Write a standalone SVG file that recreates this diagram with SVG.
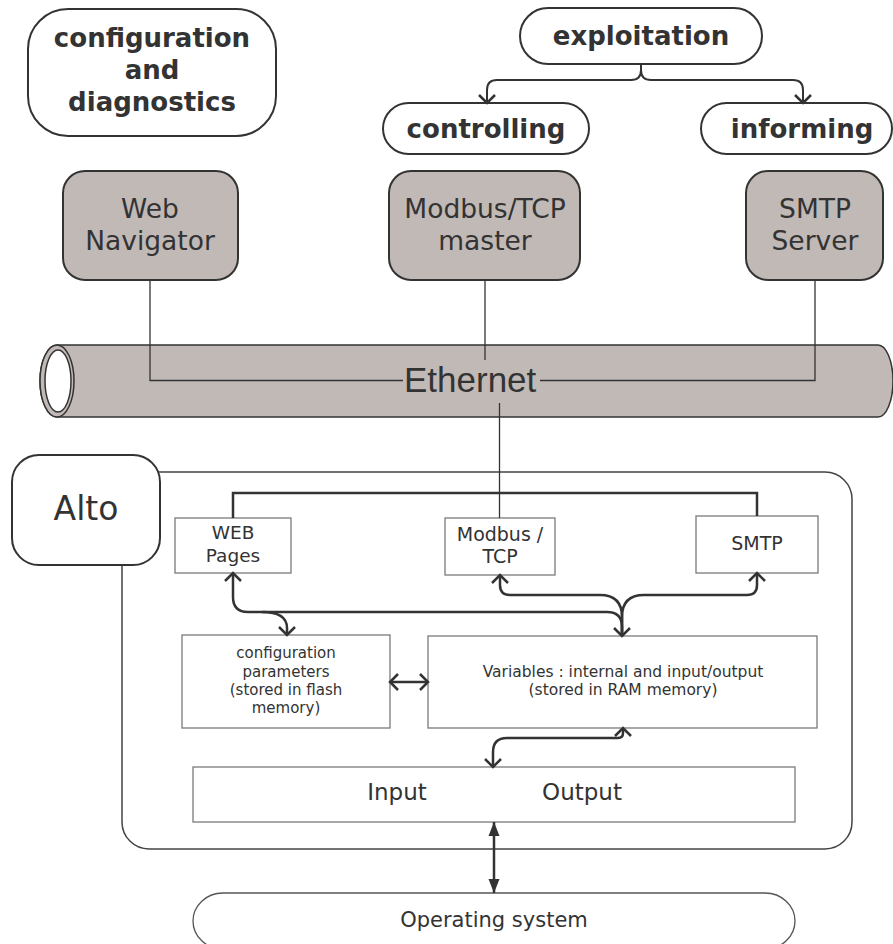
<svg xmlns="http://www.w3.org/2000/svg" width="893" height="944" viewBox="0 0 893 944">
<style>
text{font-family:"DejaVu Sans",Verdana,sans-serif;fill:#333}
.b{font-weight:bold;font-size:26px}
.pill{fill:#fff;stroke:#333;stroke-width:2}
.dev{fill:#c1b9b6;stroke:#333;stroke-width:2}
.box{fill:#fff;stroke:#7a7a7a;stroke-width:1.3}
.ln{fill:none;stroke:#333;stroke-width:1.3}
.cn{fill:none;stroke:#333;stroke-width:2.5}
.cn2{fill:none;stroke:#333;stroke-width:2}
</style>
<defs>
<marker id="v" markerUnits="userSpaceOnUse" markerWidth="20" markerHeight="20" refX="10" refY="10" orient="auto-start-reverse" viewBox="0 0 20 20">
<path d="M2,2 L10,10 L2,18" fill="none" stroke="#333" stroke-width="2.5"/>
</marker>
<marker id="t" markerUnits="userSpaceOnUse" markerWidth="20" markerHeight="20" refX="14" refY="10" orient="auto-start-reverse" viewBox="0 0 20 20">
<path d="M0,4.5 L14,10 L0,15.5 Z" fill="#333"/>
</marker>
</defs>

<g id="config-diag">
<rect class="pill" x="28" y="9" width="248" height="127" rx="40"/>
<text class="b" x="152" y="47" text-anchor="middle">configuration</text>
<text class="b" x="152" y="79" text-anchor="middle">and</text>
<text class="b" x="152" y="111" text-anchor="middle">diagnostics</text>
</g>
<g id="exploitation">
<rect class="pill" x="520" y="8" width="242" height="56" rx="28"/>
<text class="b" x="641" y="45" text-anchor="middle">exploitation</text>
</g>
<g id="controlling">
<rect class="pill" x="383" y="103" width="206" height="51" rx="25.5"/>
<text class="b" x="486" y="138" text-anchor="middle">controlling</text>
</g>
<g id="informing">
<rect class="pill" x="701" y="103" width="191" height="51" rx="25.5"/>
<text class="b" x="802" y="138" text-anchor="middle">informing</text>
</g>

<g id="web-navigator">
<rect class="dev" x="63" y="171" width="175" height="109" rx="22"/>
<text x="150" y="218" font-size="26.5" text-anchor="middle">Web</text>
<text x="150" y="250" font-size="26.5" text-anchor="middle">Navigator</text>
</g>
<g id="modbus-master">
<rect class="dev" x="389" y="171" width="191" height="109" rx="22"/>
<text x="485" y="218" font-size="26.5" text-anchor="middle">Modbus/TCP</text>
<text x="485" y="250" font-size="26.5" text-anchor="middle">master</text>
</g>
<g id="smtp-server">
<rect class="dev" x="746" y="171" width="137" height="109" rx="22"/>
<text x="815" y="218" font-size="26.5" text-anchor="middle">SMTP</text>
<text x="815" y="250" font-size="26.5" text-anchor="middle">Server</text>
</g>

<g id="ethernet">
<path d="M57,345 L878,345 A15,36 0 0 1 878,417 L57,417 A17,36 0 0 1 57,345 Z" fill="#c1b9b6" stroke="#333" stroke-width="1.5"/>
<ellipse cx="57" cy="381" rx="17" ry="36" fill="#c1b9b6" stroke="#333" stroke-width="1.5"/>
<ellipse cx="58" cy="381" rx="13" ry="31" fill="#fff" stroke="#333" stroke-width="1.5"/>
<text x="404" y="392" font-family="'Liberation Sans',Arial,sans-serif" font-size="35" style="font-family:'Liberation Sans',Arial,sans-serif">Ethernet</text>
</g>

<g id="container">
<rect x="122" y="472" width="730" height="377" rx="27" fill="#fff" stroke="#444" stroke-width="1.5"/>
</g>
<g id="alto">
<rect class="pill" x="12" y="455" width="148" height="110" rx="27"/>
<text x="86" y="520" font-size="33" text-anchor="middle">Alto</text>
</g>

<g id="web-pages">
<rect class="box" x="175" y="518" width="116" height="55"/>
<text x="233" y="539" font-size="18.5" text-anchor="middle">WEB</text>
<text x="233" y="562" font-size="18.5" text-anchor="middle">Pages</text>
</g>
<g id="modbus-tcp">
<rect class="box" x="445" y="518" width="110" height="57"/>
<text x="500" y="541" font-size="19" text-anchor="middle">Modbus /</text>
<text x="500" y="563" font-size="19" text-anchor="middle">TCP</text>
</g>
<g id="smtp">
<rect class="box" x="696" y="516" width="122" height="57"/>
<text x="757" y="550" font-size="19" text-anchor="middle">SMTP</text>
</g>
<g id="config-params">
<rect class="box" x="182" y="635" width="208" height="93"/>
<text x="286" y="658" font-size="15" text-anchor="middle">configuration</text>
<text x="286" y="677" font-size="15" text-anchor="middle">parameters</text>
<text x="286" y="695" font-size="15" text-anchor="middle">(stored in flash</text>
<text x="286" y="713" font-size="15" text-anchor="middle">memory)</text>
</g>
<g id="variables">
<rect class="box" x="428" y="636" width="389" height="92"/>
<text x="623" y="677" font-size="15.5" text-anchor="middle">Variables : internal and input/output</text>
<text x="623" y="695" font-size="15.5" text-anchor="middle">(stored in RAM memory)</text>
</g>
<g id="input-output">
<rect class="box" x="193" y="767" width="602" height="55"/>
<text x="397" y="800" font-size="23" text-anchor="middle">Input</text>
<text x="582" y="800" font-size="23" text-anchor="middle">Output</text>
</g>
<g id="operating-system">
<rect x="193" y="893" width="602" height="56" rx="30" fill="#fff" stroke="#555" stroke-width="1.3"/>
<text x="494" y="927" font-size="21" text-anchor="middle">Operating system</text>
</g>

<g id="connectors">
<path class="cn2" d="M641,64 L641,70 Q641,80 631,80 L497,80 Q487,80 487,90 L487,103" marker-end="url(#v)"/>
<path class="cn2" d="M641,64 L641,70 Q641,80 651,80 L793,80 Q803,80 803,90 L803,103" marker-end="url(#v)"/>
<path class="ln" d="M150,280 L150,380.5 L403,380.5"/>
<path class="ln" d="M540,380.5 L815,380.5 L815,280"/>
<path class="ln" d="M485,280 L485,360"/>
<path class="ln" d="M499.5,403 L499.5,518"/>
<path class="cn" d="M233,518 L233,493 L757,493 L757,516"/>
<path class="cn" d="M233,573 L233,597 Q233,612 248,612 L607,612 Q622,612 622,627 L622,636" marker-start="url(#v)" marker-end="url(#v)"/>
<path class="cn" d="M262,612 Q287,612 287,628 L287,635" marker-end="url(#v)"/>
<path class="cn" d="M500,575 L500,585 Q500,595 510,595 L600,595 Q622,595 622,617 L622,636" marker-start="url(#v)"/>
<path class="cn" d="M757,573 L757,585 Q757,595 747,595 L644,595 Q622,595 622,617 L622,636" marker-start="url(#v)"/>
<path class="cn" d="M390,682 L428,682" marker-start="url(#v)" marker-end="url(#v)"/>
<path class="cn" d="M623,728 L623,733 Q623,738 618,738 L507,738 Q493,738 493,752 L493,767" marker-start="url(#v)" marker-end="url(#v)"/>
<path class="cn" d="M494,822 L494,893" marker-start="url(#t)" marker-end="url(#t)"/>
</g>
</svg>
